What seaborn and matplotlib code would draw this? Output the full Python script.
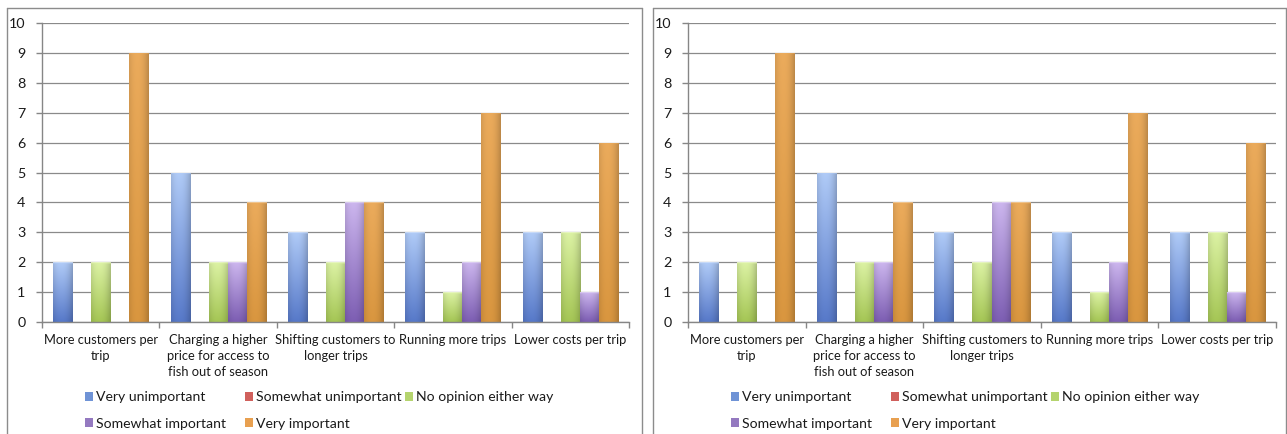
import numpy as np
import pandas as pd
import matplotlib
matplotlib.use("Agg")
import matplotlib.pyplot as plt
from matplotlib.patches import Patch
from matplotlib.lines import Line2D
from matplotlib.colors import to_rgb
import seaborn as sns

# ---- data -------------------------------------------------------------
factors = [
    "More customers per\ntrip",
    "Charging a higher\nprice for access to\nfish out of season",
    "Shifting customers to\nlonger trips",
    "Running more trips",
    "Lower costs per trip",
]
ratings = [
    "Very unimportant",
    "Somewhat unimportant",
    "No opinion either way",
    "Somewhat important",
    "Very important",
]
very_unimportant = [2, 5, 3, 3, 3]
somewhat_unimportant = [0, 0, 0, 0, 0]
no_opinion = [2, 2, 2, 1, 3]
somewhat_important = [0, 2, 4, 2, 1]
very_important = [9, 4, 4, 7, 6]
y_ticks = list(range(0, 11))

series = [very_unimportant, somewhat_unimportant, no_opinion,
          somewhat_important, very_important]
df = pd.DataFrame(
    [(f, r, v) for r, vals in zip(ratings, series) for f, v in zip(factors, vals)],
    columns=["factor", "rating", "count"],
)

# ---- styling ----------------------------------------------------------
base_colors = ["#4f81bd", "#c0504d", "#9bbb59", "#8064a2", "#f79646"]
legend_colors = ["#6f93d6", "#d0605c", "#b5d46e", "#9479c0", "#e8a050"]
bar_light = ["#b0cbf7", "#e58e8b", "#dcf2a4", "#ccb6ee", "#ebab5c"]
bar_dark = ["#5779c9", "#b94a47", "#a5c655", "#7d5eb3", "#d9963f"]

sns.set_theme(style="white")
plt.rcParams["font.family"] = ["Lato", "DejaVu Sans"]
TEXT = "#1a1a1a"
AXIS = "#868686"
FS = 9.3
LEG_FS = 10.1

W, H = 1287, 434
fig = plt.figure(figsize=(W / 100, H / 100), dpi=100)
fig.patch.set_facecolor("white")


def fx(px):
    return px / W


def fy(px):
    return 1 - px / H


def shade_bar(ax, bar, light, dark, px_per_unit):
    h = bar.get_height()
    if h <= 0:
        bar.set_visible(False)
        return
    x0, w = bar.get_x(), bar.get_width()
    rows = max(int(round(h * px_per_unit)), 3)
    cols = 40
    t = np.linspace(0, 1, rows)[:, None, None]
    u = np.linspace(0, 1, cols)[None, :, None]
    lo = np.array(to_rgb(light))[None, None, :]
    hi = np.array(to_rgb(dark))[None, None, :]
    col = lo * (1 - t) + hi * t
    edge = np.clip(np.abs(u - 0.42) / 0.58, 0, 1) ** 2.2
    img = col * (1 - 0.2 * edge)
    img[:2] = img[:2] * 0.6 + 0.4 * np.array(to_rgb(light))
    img[:1] = img[:1] * 0.7 + 0.3
    img = np.clip(img, 0, 1)
    im = ax.imshow(img, extent=(x0, x0 + w, 0, h), origin="upper",
                   aspect="auto", interpolation="bilinear",
                   zorder=bar.get_zorder() + 0.1)
    im.set_clip_path(bar)


def draw_panel(x_left, x_axis0, x_axis1, x_right):
    top, bottom = 23, 322
    ax = fig.add_axes([fx(x_axis0), fy(bottom), fx(x_axis1 - x_axis0),
                       (bottom - top) / H])
    sns.barplot(data=df, x="factor", y="count", hue="rating", order=factors,
                hue_order=ratings, palette=base_colors, saturation=1,
                width=0.81, gap=0, errorbar=None, legend=False, ax=ax,
                linewidth=0)
    px_per_unit = (bottom - top) / 10
    for bar in list(ax.patches):
        fc = np.array(bar.get_facecolor()[:3])
        idx = int(np.argmin([np.sum((fc - np.array(to_rgb(c))) ** 2)
                             for c in base_colors]))
        shade_bar(ax, bar, bar_light[idx], bar_dark[idx], px_per_unit)

    ax.set_xlim(-0.5, len(factors) - 0.5)
    ax.set_ylim(0, 10)
    ax.set_yticks(y_ticks)
    ax.set_xticks(range(len(factors)))
    ax.set_xticklabels(factors, linespacing=1.38, va="top")
    ax.set_xlabel("")
    ax.set_ylabel("")
    ax.set_facecolor("white")
    for s in ("top", "right"):
        ax.spines[s].set_visible(False)
    for s in ("left", "bottom"):
        ax.spines[s].set_color(AXIS)
        ax.spines[s].set_linewidth(1.0)
    ax.yaxis.grid(True, color="#8a8a8a", linewidth=0.9)
    ax.xaxis.grid(False)
    ax.set_axisbelow(True)
    ax.set_xticks(np.arange(-0.5, len(factors)), minor=True)
    ax.tick_params(axis="x", which="major", length=0, pad=9,
                   labelsize=FS, labelcolor=TEXT)
    ax.tick_params(axis="x", which="minor", length=4, width=1, color=AXIS,
                   direction="out", bottom=True)
    ax.tick_params(axis="y", length=4, width=1, color=AXIS, direction="out",
                   left=True, pad=8, labelsize=FS + 1, labelcolor=TEXT)

    # legend: three equal-width columns, entries read across the rows
    columns = [[0, 3], [1, 4], [2]]
    col_x = [x_left + 78, x_left + 238, x_left + 398]
    for cx, items in zip(col_x, columns):
        handles = [Patch(facecolor=legend_colors[i], edgecolor="none")
                   for i in items]
        labels = [ratings[i] for i in items]
        fig.legend(handles, labels, loc="upper left",
                   bbox_to_anchor=(fx(cx), fy(391)), ncol=1, frameon=False,
                   fontsize=LEG_FS, handlelength=0.62, handleheight=0.62,
                   handletextpad=0.22, labelspacing=1.05, borderpad=0,
                   borderaxespad=0, labelcolor=TEXT)

    # panel frame
    for xs, ys in (([x_left, x_left], [8, H + 5]),
                   ([x_right, x_right], [8, H + 5]),
                   ([x_left, x_right], [8, 8])):
        fig.add_artist(Line2D([fx(v) for v in xs], [fy(v) for v in ys],
                              transform=fig.transFigure, color="#8c8c8c",
                              linewidth=1.0))
    return ax


draw_panel(6.5, 42, 629, 641.5)
draw_panel(652.5, 688, 1276, 1285.5)

fig.savefig("out.png", dpi=100, facecolor="white")
